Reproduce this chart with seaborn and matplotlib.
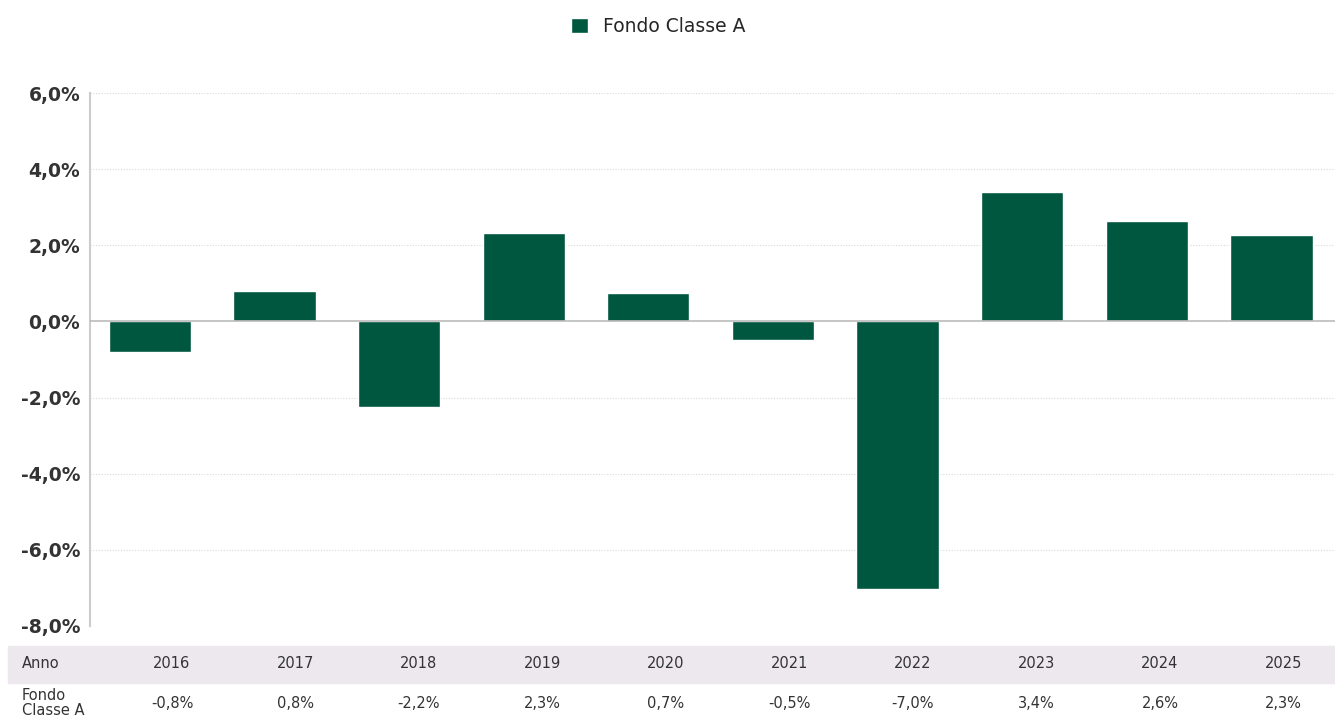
import matplotlib
matplotlib.use("Agg")
import matplotlib.pyplot as plt
import matplotlib.ticker as mticker
from matplotlib.patches import Rectangle
import seaborn as sns
import pandas as pd

# Rendimenti annuali
anni = ["2016", "2017", "2018", "2019", "2020", "2021", "2022", "2023", "2024", "2025"]
rendimenti = [-0.8, 0.79, -2.25, 2.33, 0.74, -0.48, -7.02, 3.39, 2.64, 2.28]
etichette = ["-0,8%", "0,8%", "-2,2%", "2,3%", "0,7%", "-0,5%", "-7,0%", "3,4%", "2,6%", "2,3%"]
serie = "Fondo Classe A"

VERDE = "#00573F"
TESTO = "#333333"

sns.set_theme(style="white")
plt.rcParams["font.family"] = ["DejaVu Sans"]

df = pd.DataFrame({"anno": anni, "rendimento": rendimenti})

fig = plt.figure(figsize=(13.35, 7.17), dpi=100)
ax = fig.add_axes([90 / 1335, 1 - 626 / 717, 1 - 90 / 1335, (626 - 93) / 717])

sns.barplot(data=df, x="anno", y="rendimento", color=VERDE, width=0.66,
            saturation=1, label=serie, ax=ax)
if ax.get_legend() is not None:
    ax.get_legend().remove()

ax.set_ylim(-8, 6)
ax.set_xlim(-0.48, 9.51)
ax.set_yticks(range(-8, 7, 2))
ax.yaxis.set_major_formatter(mticker.FuncFormatter(
    lambda v, _: f"{v:.1f}".replace(".", ",") + "%"))
for lab in ax.get_yticklabels():
    lab.set_fontweight("bold")
    lab.set_fontsize(13.5)
    lab.set_color(TESTO)
ax.tick_params(axis="y", length=0, pad=7)
ax.set_xticks([])
ax.set_xlabel("")
ax.set_ylabel("")

# griglia tratteggiata e linea dello zero
for v in range(-8, 7, 2):
    if v != 0:
        ax.axhline(v, color="#d9d9d9", lw=0.8, ls=(0, (1, 1.5)), zorder=0)
ax.axhline(0, color="#bbbbbb", lw=1.2, zorder=3)

for s in ["top", "right", "bottom"]:
    ax.spines[s].set_visible(False)
ax.spines["left"].set_color("#cccccc")
ax.spines["left"].set_linewidth(1.5)

# legenda in alto
handles, labels = ax.get_legend_handles_labels()
fig.legend(handles[:1], labels[:1], loc="upper center", bbox_to_anchor=(0.493, 1.0),
           frameon=False, fontsize=13.5, handlelength=0.9, handleheight=0.9,
           handletextpad=0.8)

# tabella sotto il grafico
fig.patches.append(Rectangle((8 / 1335, 1 - 683 / 717), 1 - 8 / 1335, 37 / 717,
                             transform=fig.transFigure, color="#ECE8EE", zorder=0))
y_anno = 1 - 664 / 717
y_val = 1 - 703 / 717
fig.text(22 / 1335, y_anno, "Anno", fontsize=10.5, color=TESTO, va="center")
fig.text(22 / 1335, y_val, "Fondo\nClasse A", fontsize=10.5, color=TESTO, va="center",
         linespacing=1.0)
for i, (a, e) in enumerate(zip(anni, etichette)):
    xc = (172 + i * 123.5) / 1335
    fig.text(xc, y_anno, a, fontsize=10.5, color=TESTO, ha="center", va="center")
    fig.text(xc, y_val, e, fontsize=10.5, color=TESTO, ha="center", va="center")

fig.savefig("out.png", dpi=100)
